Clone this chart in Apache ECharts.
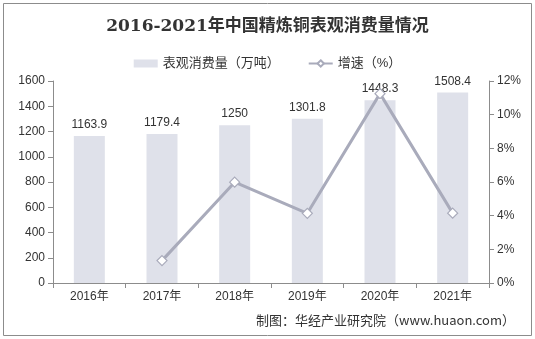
<!DOCTYPE html>
<html>
<head>
<meta charset="utf-8">
<script src="https://cdn.jsdelivr.net/npm/echarts@6/dist/echarts.min.js"></script>
<style>
  html, body { margin: 0; padding: 0; background: #fff; }
  #chart { width: 535px; height: 339px; }
</style>
</head>
<body>
<div id="chart"></div>
<script>
// Refined copper apparent consumption in China, 2016-2021
const years = ['2016年', '2017年', '2018年', '2019年', '2020年', '2021年'];
const consumption = [1163.9, 1179.4, 1250, 1301.8, 1448.3, 1508.4];   // 万吨
const growth = [null, 1.33, 5.99, 4.14, 11.25, 4.15];                  // %

const chart = echarts.init(document.getElementById('chart'));
const sans = '"Liberation Sans", Arial, "Noto Sans CJK SC", sans-serif';

chart.setOption({
  animation: false,
  backgroundColor: '#fff',
  title: {
    text: '2016-2021年中国精炼铜表观消费量情况',
    left: 'center',
    top: 13,
    textStyle: {
      fontFamily: '"DejaVu Serif", "Noto Sans CJK SC", serif',
      fontWeight: 'bold',
      fontSize: 17,
      color: '#333'
    }
  },
  legend: {
    top: 52,
    left: 'center',
    itemGap: 28,
    itemWidth: 24,
    itemHeight: 8,
    textStyle: { fontFamily: sans, fontSize: 13, color: '#333' },
    data: [
      { name: '表观消费量（万吨）', icon: 'rect' },
      { name: '增速（%）' }
    ]
  },
  grid: { left: 53, right: 46, top: 81, bottom: 56 },
  xAxis: {
    type: 'category',
    data: years,
    axisLine: { lineStyle: { color: '#8c8c8c' } },
    axisTick: { show: true, alignWithLabel: false, lineStyle: { color: '#8c8c8c' } },
    axisLabel: { fontFamily: sans, fontSize: 12, color: '#333', margin: 8 }
  },
  yAxis: [
    {
      type: 'value', min: 0, max: 1600, interval: 200,
      axisLine: { show: true, lineStyle: { color: '#8c8c8c' } },
      axisTick: { show: true, lineStyle: { color: '#8c8c8c' } },
      splitLine: { show: false },
      axisLabel: {
        fontFamily: sans, fontSize: 12, color: '#333', margin: 8,
        formatter: v => String(v)
      }
    },
    {
      type: 'value', min: 0, max: 12, interval: 2,
      axisLine: { show: true, lineStyle: { color: '#8c8c8c' } },
      axisTick: { show: true, lineStyle: { color: '#8c8c8c' } },
      splitLine: { show: false },
      axisLabel: { fontFamily: sans, fontSize: 12, color: '#333', margin: 8, formatter: '{value}%' }
    }
  ],
  series: [
    {
      name: '表观消费量（万吨）',
      type: 'bar',
      data: consumption,
      barWidth: 31,
      itemStyle: { color: '#dfe1ea' },
      label: {
        show: true, position: 'top', distance: 5,
        fontFamily: sans, fontSize: 12, color: '#333'
      }
    },
    {
      name: '增速（%）',
      type: 'line',
      yAxisIndex: 1,
      data: growth,
      connectNulls: false,
      symbol: 'diamond',
      symbolSize: 10,
      lineStyle: { color: '#a9abbb', width: 3 },
      itemStyle: { color: '#fff', borderColor: '#a9abbb', borderWidth: 1.2 }
    }
  ],
  graphic: [
    {
      type: 'rect',
      shape: { x: 3.5, y: 3.5, width: 528, height: 332 },
      style: { fill: 'none', stroke: '#8c8c8c', lineWidth: 1 },
      silent: true
    },
    {
      type: 'text',
      right: 20,
      top: 314,
      style: {
        text: '制图：华经产业研究院（www.huaon.com）',
        font: '13px "Noto Sans CJK SC", sans-serif',
        fill: '#333'
      }
    }
  ]
});
</script>
</body>
</html>
